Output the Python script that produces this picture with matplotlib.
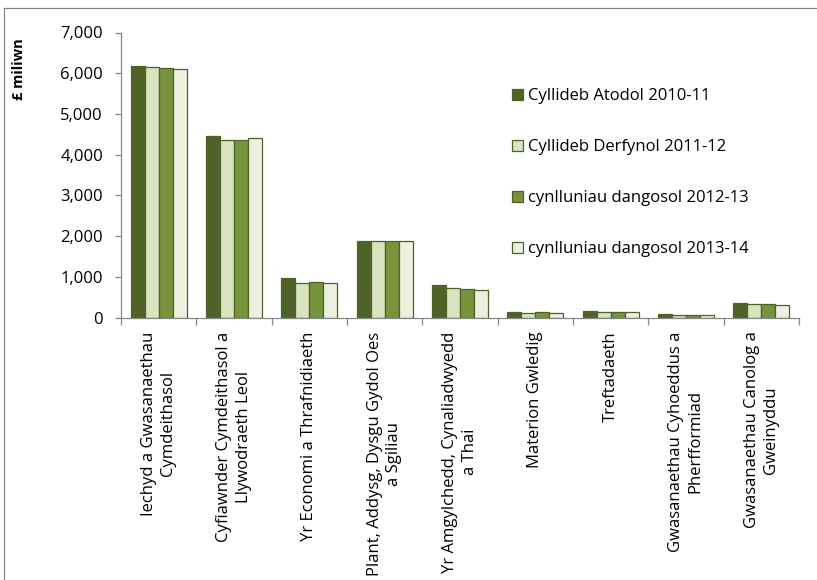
import matplotlib
matplotlib.use("Agg")
import matplotlib.pyplot as plt
import numpy as np
from matplotlib.lines import Line2D

categories = [
    "Iechyd a Gwasanaethau\nCymdeithasol",
    "Cyfiawnder Cymdeithasol a\nLlywodraeth Leol",
    "Yr Economi a Thrafnidiaeth",
    "Plant, Addysg, Dysgu Gydol Oes\na Sgiliau",
    "Yr Amgylchedd, Cynaliadwyedd\na Thai",
    "Materion Gwledig",
    "Treftadaeth",
    "Gwasanaethau Cyhoeddus a\nPherfformiad",
    "Gwasanaethau Canolog a\nGweinyddu",
]
series_names = [
    "Cyllideb Atodol 2010-11",
    "Cyllideb Derfynol 2011-12",
    "cynlluniau dangosol 2012-13",
    "cynlluniau dangosol 2013-14",
]
atodol_2010_11 = [6175, 4460, 980, 1890, 808, 147, 163, 90, 370]
derfynol_2011_12 = [6150, 4370, 841, 1890, 734, 122, 139, 65, 330]
dangosol_2012_13 = [6130, 4370, 874, 1885, 710, 130, 139, 65, 325]
dangosol_2013_14 = [6115, 4420, 849, 1890, 670, 122, 139, 57, 305]
yticks = [0, 1000, 2000, 3000, 4000, 5000, 6000, 7000]
ytick_labels = ["0", "1,000", "2,000", "3,000", "4,000", "5,000", "6,000", "7,000"]

series = [atodol_2010_11, derfynol_2011_12, dangosol_2012_13, dangosol_2013_14]
colors = ["#4F6228", "#D7E4BD", "#77933C", "#EBF1DE"]
edge = "#4F6228"
axis_gray = "#868686"

plt.rcParams["font.family"] = ["Open Sans", "DejaVu Sans"]
FS = 12

W, H = 817, 580
fig = plt.figure(figsize=(W / 100, H / 100), dpi=100)
L, R, T, B = 121, 799, 32.5, 317.7
ax = fig.add_axes([L / W, 1 - B / H, (R - L) / W, (B - T) / H])

x = np.arange(len(categories))
bw = 0.186
for i, (vals, c) in enumerate(zip(series, colors)):
    ax.bar(x + (i - 1.5) * bw, vals, width=bw, color=c, edgecolor=edge,
           linewidth=0.9, label=series_names[i], zorder=2)

ax.set_xlim(-0.5, len(categories) - 0.5)
ax.set_ylim(0, 7000)
ax.set_yticks(yticks)
ax.set_yticklabels(ytick_labels, fontsize=FS)
ax.set_xticks(np.arange(len(categories) + 1) - 0.5)
ax.set_xticklabels([])
ax.set_xticks(x, minor=True)
ax.set_xticklabels(categories, minor=True, rotation=90, fontsize=FS,
                   ha="center", va="top", multialignment="center",
                   linespacing=1.25)
ax.tick_params(axis="x", which="minor", length=0, pad=10)
ax.tick_params(axis="x", which="major", length=5, width=0.9, direction="out", color=axis_gray)
ax.tick_params(axis="y", length=4, width=0.9, direction="out", color=axis_gray, pad=9)
for s in ["top", "right"]:
    ax.spines[s].set_visible(False)
for s in ["left", "bottom"]:
    ax.spines[s].set_color(axis_gray)
    ax.spines[s].set_linewidth(0.9)

fig.text(19 / W, 1 - 69 / H, "£ miliwn", rotation=90, fontsize=10.5,
         fontweight="bold", ha="center", va="center")

ax.legend(loc="upper left",
          bbox_to_anchor=((504 - L) / (R - L), 1 - (80 - T) / (B - T)),
          frameon=False, fontsize=FS, labelspacing=2.1,
          handlelength=0.66, handleheight=0.66, handletextpad=0.28, borderpad=0)

# outer chart frame (only top and left edges fall inside the image)
fig.add_artist(Line2D([4 / W, 4 / W], [0, 1 - 8 / H], transform=fig.transFigure,
                      color=axis_gray, linewidth=0.9))
fig.add_artist(Line2D([4 / W, 1], [1 - 8 / H, 1 - 8 / H], transform=fig.transFigure,
                      color=axis_gray, linewidth=0.9))

fig.savefig("out.png", dpi=100)
